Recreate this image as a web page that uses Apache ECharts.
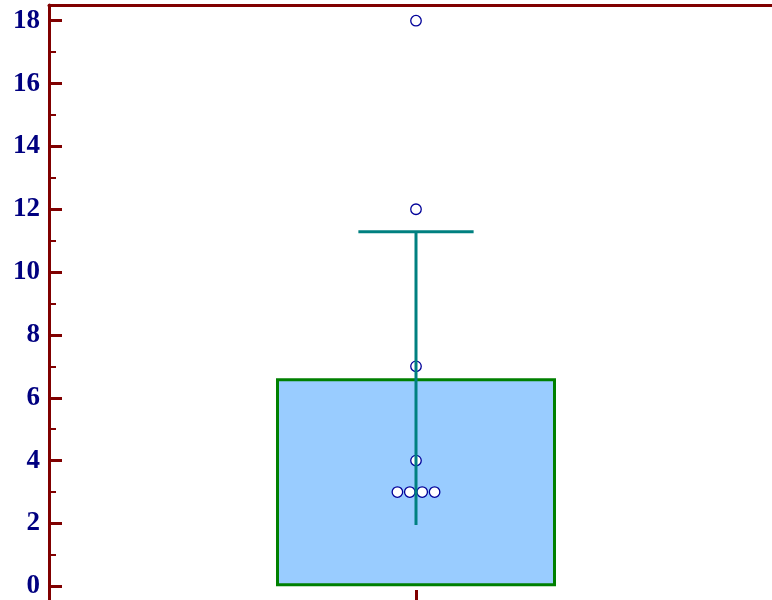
<!DOCTYPE html>
<html>
<head>
<meta charset="utf-8">
<script src="https://cdn.jsdelivr.net/npm/echarts@6/dist/echarts.min.js"></script>
<style>
  html, body { margin: 0; padding: 0; background: #ffffff; }
  #chart { width: 772px; height: 600px; }
</style>
</head>
<body>
<div id="chart"></div>
<script>
// Group summary and raw observations
const categories = ['A'];
const meanValues = [6.625];
const errLow = [1.95];
const errHigh = [11.28];
const observations = [18, 12, 7, 4, 3, 3, 3, 3];
const majorTicks = [0, 2, 4, 6, 8, 10, 12, 14, 16, 18];
const minorTicks = [1, 3, 5, 7, 9, 11, 13, 15, 17];

const AXIS_COLOR = '#800000';
const LABEL_COLOR = '#000080';

// Spread identical values side by side (simple swarm layout)
const DOT_SPACING = 12.4;
const counts = {};
observations.forEach(v => { counts[v] = (counts[v] || 0) + 1; });
const seen = {};
const dotData = observations.map(v => {
  const n = counts[v];
  const i = (seen[v] = (seen[v] || 0) + 1) - 1;
  return {
    value: [categories[0], v],
    symbolOffset: [(i - (n - 1) / 2) * DOT_SPACING, 0]
  };
});

const chart = echarts.init(document.getElementById('chart'), null, { renderer: 'canvas' });

chart.setOption({
  animation: false,
  backgroundColor: '#ffffff',
  // plot area runs a little past the right and bottom edges of the canvas
  grid: { left: 49, top: 5, width: 734, height: 597, containLabel: false, outerBoundsMode: 'none' },
  xAxis: [
    {
      type: 'category',
      data: categories,
      position: 'bottom',
      axisLine: { show: true, onZero: false, lineStyle: { color: AXIS_COLOR, width: 3 } },
      axisTick: { show: true, inside: true, length: 12, alignWithLabel: true,
                  lineStyle: { color: AXIS_COLOR, width: 3 } },
      axisLabel: { show: false },
      splitLine: { show: false }
    },
    {
      type: 'category',
      data: categories,
      position: 'top',
      axisLine: { show: true, onZero: false, lineStyle: { color: AXIS_COLOR, width: 3 } },
      axisTick: { show: false },
      axisLabel: { show: false },
      splitLine: { show: false }
    }
  ],
  yAxis: [
    {
      type: 'value',
      min: -0.5,
      max: 18.5,
      position: 'left',
      axisLine: { show: true, onZero: false, lineStyle: { color: AXIS_COLOR, width: 3 } },
      axisTick: { show: true, inside: true, length: 13, customValues: majorTicks,
                  lineStyle: { color: AXIS_COLOR, width: 3 } },
      axisLabel: {
        show: true, customValues: majorTicks, margin: 9,
        color: LABEL_COLOR, fontFamily: '"Liberation Serif", "Times New Roman", serif',
        fontWeight: 'bold', fontSize: 27
      },
      splitLine: { show: false }
    },
    {
      type: 'value',
      min: -0.5,
      max: 18.5,
      position: 'left',
      axisLine: { show: false },
      axisTick: { show: true, inside: true, length: 7, customValues: minorTicks,
                  lineStyle: { color: AXIS_COLOR, width: 2 } },
      axisLabel: { show: false },
      splitLine: { show: false }
    }
  ],
  series: [
    {
      type: 'bar',
      data: meanValues,
      barWidth: 280,
      itemStyle: { color: '#99CCFF', borderColor: '#008000', borderWidth: 3 },
      z: 2
    },
    {
      type: 'scatter',
      data: dotData,
      symbol: 'circle',
      symbolSize: 10.5,
      itemStyle: { color: '#ffffff', borderColor: '#000099', borderWidth: 1.3, opacity: 1 },
      z: 3
    },
    {
      type: 'custom',
      data: categories.map((c, i) => [i, errLow[i], errHigh[i]]),
      renderItem: function (params, api) {
        const x = api.value(0);
        const lo = api.coord([x, api.value(1)]);
        const hi = api.coord([x, api.value(2)]);
        const capHalf = api.size([1, 0])[0] * 0.157 / 2;
        const style = { stroke: '#008080', lineWidth: 3 };
        return {
          type: 'group',
          children: [
            { type: 'line', shape: { x1: lo[0], y1: lo[1], x2: hi[0], y2: hi[1] }, style },
            { type: 'line', shape: { x1: hi[0] - capHalf, y1: hi[1], x2: hi[0] + capHalf, y2: hi[1] }, style }
          ]
        };
      },
      z: 4
    }
  ]
});
</script>
</body>
</html>
